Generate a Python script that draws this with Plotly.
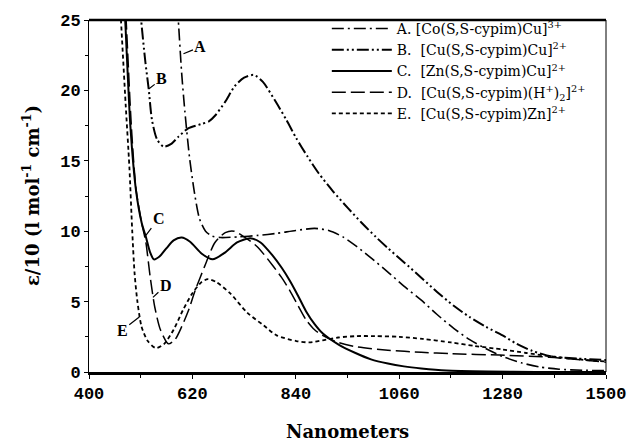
import plotly.graph_objects as go

# ---- data ----
a_x = [585, 590, 597, 604, 614, 625, 635, 648, 662, 680, 720, 760, 800, 840, 880, 910, 940, 970, 1000, 1036, 1070, 1107, 1140, 1176, 1210, 1245, 1280, 1320, 1360, 1400, 1450, 1500]
a_y = [27.5, 25, 21.3, 18.5, 15.2, 12.6, 10.9, 10.0, 9.65, 9.55, 9.6, 9.7, 9.85, 10.05, 10.2, 10.05, 9.6, 8.9, 8.1, 7.1, 6.1, 5.1, 4.1, 3.1, 2.3, 1.65, 1.1, 0.65, 0.35, 0.2, 0.12, 0.1]

b_x = [505, 511, 520, 527, 534, 545, 559, 575, 590, 611, 638, 655, 668, 690, 710, 730, 751, 770, 799, 820, 841, 865, 889, 920, 952, 980, 1010, 1036, 1070, 1107, 1140, 1176, 1210, 1245, 1280, 1310, 1343, 1385, 1440, 1500]
b_y = [28, 25, 22, 20.1, 17.9, 16.5, 16.0, 16.2, 16.7, 17.3, 17.6, 17.8, 18.2, 19.2, 20.3, 20.9, 21.1, 20.6, 19.1, 17.9, 16.6, 15.3, 14.1, 12.8, 11.6, 10.6, 9.6, 8.8, 7.8, 6.7, 5.7, 4.7, 3.9, 3.2, 2.6, 2.0, 1.5, 1.1, 0.95, 0.85]

c_x = [472, 477, 488, 500, 512, 521, 530, 538, 550, 565, 580, 597, 615, 640, 663, 690, 715, 743, 765, 790, 810, 827, 845, 862, 880, 897, 931, 967, 1000, 1036, 1070, 1107, 1160, 1250, 1350, 1500]
c_y = [28, 25, 17.5, 12.9, 10.6, 9.6, 8.5, 8.0, 8.2, 8.8, 9.35, 9.55, 9.25, 8.4, 8.0, 8.5, 9.2, 9.5, 9.2, 8.3, 7.4, 6.5, 5.4, 4.3, 3.4, 2.75, 1.95, 1.35, 0.9, 0.6, 0.4, 0.25, 0.1, 0.03, 0.0, 0.0]

d_x = [474, 479, 490, 500, 512, 521, 530, 540, 552, 569, 583, 597, 612, 626, 646, 668, 690, 709, 730, 758, 790, 810, 827, 845, 862, 880, 897, 930, 967, 1036, 1107, 1170, 1274, 1379, 1500]
d_y = [28, 25, 17.5, 13.0, 10.6, 9.2, 6.8, 4.6, 3.0, 2.0, 2.3, 3.2, 4.4, 5.8, 7.5, 9.2, 9.9, 10.0, 9.6, 8.9, 7.6, 6.7, 5.8, 4.7, 3.7, 3.0, 2.6, 2.1, 1.8, 1.55, 1.4, 1.3, 1.2, 1.05, 0.7]

e_x = [463, 468, 478, 486, 492, 497, 503, 512, 525, 542, 560, 580, 600, 620, 640, 653, 670, 700, 737, 772, 799, 841, 869, 897, 930, 970, 1008, 1060, 1110, 1170, 1220, 1280, 1330, 1385, 1440, 1500]
e_y = [28, 25, 19, 14.5, 10.0, 7.0, 5.0, 3.2, 2.2, 1.7, 2.0, 3.0, 4.4, 5.6, 6.4, 6.6, 6.4, 5.6, 4.2, 3.3, 2.6, 2.2, 2.1, 2.25, 2.45, 2.55, 2.55, 2.5, 2.35, 2.1, 1.85, 1.6, 1.35, 1.1, 0.9, 0.75]

names = [
    "A. [Co(S,S-cypim)Cu]<sup>3+</sup>",
    "B.  [Cu(S,S-cypim)Cu]<sup>2+</sup>",
    "C.  [Zn(S,S-cypim)Cu]<sup>2+</sup>",
    "D.  [Cu(S,S-cypim)(H<sup>+</sup>)<sub>2</sub>]<sup>2+</sup>",
    "E.  [Cu(S,S-cypim)Zn]<sup>2+</sup>",
]
labels = ["A", "B", "C", "D", "E"]
label_x = [601, 527, 521, 536, 507]
label_y = [22.6, 20.1, 9.7, 5.3, 3.9]

x_ticks = [400, 620, 840, 1060, 1280, 1500]
y_ticks = [0, 5, 10, 15, 20, 25]

series = [(a_x, a_y), (b_x, b_y), (c_x, c_y), (d_x, d_y), (e_x, e_y)]
dashes = ["12px,4px,2px,4px", "12px,3px,2px,3px,2px,3px", "solid", "14px,5px", "4px,3px"]
widths = [1.6, 2.0, 2.0, 1.5, 1.8]

fig = go.Figure()
for (xs, ys), nm, ds, w in zip(series, names, dashes, widths):
    fig.add_trace(go.Scatter(x=xs, y=ys, mode="lines", name=nm,
                             line=dict(color="black", width=w, dash=ds, shape="spline", smoothing=0.7)))

offsets = [(17, -7), (13, -10), (13, -17), (13, -12), (-17, 13)]
for lab, lx, ly, (ox, oy) in zip(labels, label_x, label_y, offsets):
    fig.add_annotation(x=lx, y=ly, text="<b>" + lab + "</b>", showarrow=True, arrowhead=0,
                       arrowwidth=1.2, arrowcolor="black", ax=ox, ay=oy, standoff=0,
                       font=dict(family="Liberation Serif", size=16, color="black"))

wide_serif = "DejaVu Serif"
fig.update_layout(
    width=638, height=444,
    margin=dict(l=89, r=23, t=18, b=72),
    paper_bgcolor="white", plot_bgcolor="white",
    showlegend=True,
    legend=dict(x=0.46, y=1.02, xanchor="left", yanchor="top", bgcolor="rgba(0,0,0,0)",
                font=dict(family=wide_serif, size=14, color="black"), tracegroupgap=0,
                itemwidth=60),
    xaxis=dict(range=[400, 1500], tickvals=x_ticks, ticktext=[str(v) for v in x_ticks],
               showgrid=False, zeroline=False, showline=True, linecolor="black", linewidth=2.5,
               ticks="outside", ticklen=4, tickcolor="black",
               minor=dict(dtick=110, tick0=400, ticks="outside", ticklen=3, tickcolor="black"),
               tickfont=dict(family="Liberation Mono", size=17, color="black", weight="bold")),
    yaxis=dict(range=[0, 25], tickvals=y_ticks, ticktext=[str(v) for v in y_ticks],
               showgrid=False, zeroline=False, showline=True, linecolor="black", linewidth=1,
               ticks="outside", ticklen=4, tickcolor="black",
               minor=dict(dtick=2.5, tick0=0, ticks="outside", ticklen=3, tickcolor="black"),
               tickfont=dict(family="Liberation Mono", size=17, color="black", weight="bold")),
    shapes=[
        dict(type="line", xref="paper", yref="paper", x0=0, x1=1, y0=1, y1=1,
             line=dict(color="black", width=2.5)),
        dict(type="line", xref="paper", yref="paper", x0=1, x1=1, y0=0, y1=1,
             line=dict(color="black", width=1)),
    ],
)
fig.add_annotation(xref="paper", yref="paper", x=-0.112, y=0.5, xanchor="center", yanchor="middle",
                   showarrow=False, textangle=-90,
                   text="<b>ε/10 (l mol<sup>-1</sup> cm<sup>-1</sup>)</b>",
                   font=dict(family=wide_serif, size=18, color="black"))
fig.add_annotation(xref="paper", yref="paper", x=0.5, y=-0.17, xanchor="center", yanchor="middle",
                   showarrow=False,
                   text="<b>Nanometers</b>", font=dict(family=wide_serif, size=18, color="black"))

fig.write_html("out.html")
